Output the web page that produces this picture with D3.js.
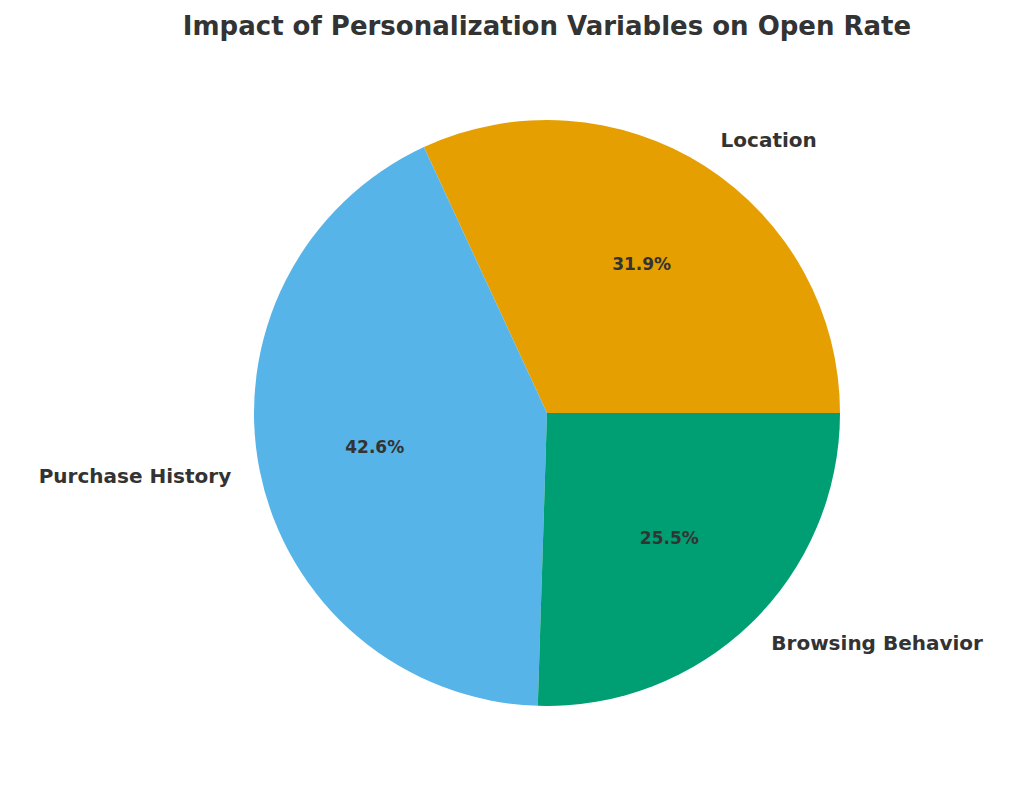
<!DOCTYPE html>
<html>
<head>
<meta charset="utf-8">
<script src="https://d3js.org/d3.v7.min.js"></script>
<style>
  body { margin: 0; background: #fff; font-family: "DejaVu Sans", sans-serif; }
  text { fill: #333; font-weight: bold; }
</style>
</head>
<body>
<div id="chart"></div>
<script>
const categories = ["Location", "Purchase History", "Browsing Behavior"];
const shares = [31.9, 42.6, 25.5];
const colors = ["#E69F00", "#56B4E9", "#009E73"];

const width = 1024, height = 793;
const cx = 547, cy = 413, r = 293;

const svg = d3.select("#chart").append("svg")
  .attr("width", width).attr("height", height);

svg.append("text")
  .attr("x", cx).attr("y", 27)
  .attr("text-anchor", "middle").attr("dominant-baseline", "middle")
  .style("font-size", "26px")
  .text("Impact of Personalization Variables on Open Rate");

const data = categories.map((c, i) => ({ name: c, value: shares[i], color: colors[i] }));

// counter-clockwise from 3 o'clock, like matplotlib's default
const pie = d3.pie().sort(null).value(d => d.value)
  .startAngle(Math.PI / 2).endAngle(Math.PI / 2 - 2 * Math.PI);

const arcs = pie(data);
const arc = d3.arc().innerRadius(0).outerRadius(r);
const labelArc = d3.arc().innerRadius(r * 1.1).outerRadius(r * 1.1);
const pctArc = d3.arc().innerRadius(r * 0.6).outerRadius(r * 0.6);

const g = svg.append("g").attr("transform", `translate(${cx},${cy})`);

g.selectAll("path").data(arcs).enter().append("path")
  .attr("d", arc).attr("fill", d => d.data.color);

g.selectAll(".label").data(arcs).enter().append("text")
  .attr("class", "label")
  .attr("transform", d => `translate(${labelArc.centroid(d)})`)
  .attr("text-anchor", d => labelArc.centroid(d)[0] > 0 ? "start" : "end")
  .attr("dominant-baseline", "middle")
  .style("font-size", "20px")
  .text(d => d.data.name);

g.selectAll(".pct").data(arcs).enter().append("text")
  .attr("class", "pct")
  .attr("transform", d => `translate(${pctArc.centroid(d)})`)
  .attr("text-anchor", "middle")
  .attr("dominant-baseline", "middle")
  .style("font-size", "17px")
  .text(d => d.data.value.toFixed(1) + "%");
</script>
</body>
</html>
